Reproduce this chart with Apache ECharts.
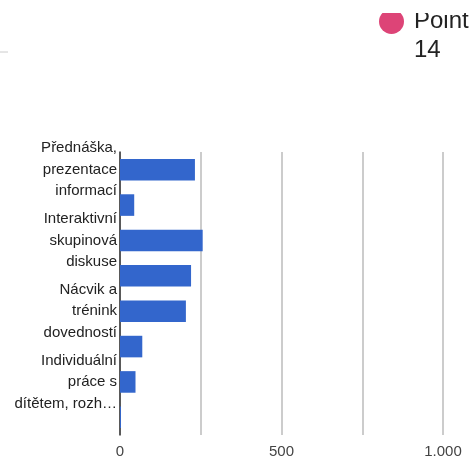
<!DOCTYPE html>
<html>
<head>
<meta charset="utf-8">
<script src="https://cdn.jsdelivr.net/npm/echarts@6/dist/echarts.min.js"></script>
<style>
  html, body { margin: 0; padding: 0; background: #fff; }
  #chart { width: 470px; height: 458px; }
</style>
</head>
<body>
<div id="chart"></div>
<script>
// categories (only every other label fits, the rest are hidden like in the original)
var categories = [
  'Přednáška,\nprezentace\ninformací',
  'Kategorie 2',
  'Interaktivní\nskupinová\ndiskuse',
  'Kategorie 4',
  'Nácvik a\ntrénink\ndovedností',
  'Kategorie 6',
  'Individuální\npráce s\ndítětem, rozh…',
  'Kategorie 8'
];
var values = [232, 44, 256, 220, 204, 69, 48, 3];
var legendName = 'Point';
var legendSub = '14';
var xTicks = [0, 500, 1000];

var chartDom = document.getElementById('chart');
var myChart = echarts.init(chartDom);
var option;

option = {
  animation: false,
  textStyle: { fontFamily: 'Liberation Sans, Arial, sans-serif' },
  legend: {
    data: [legendName],
    left: 379,
    top: 9,
    padding: 0,
    icon: 'circle',
    itemWidth: 25,
    itemHeight: 25,
    itemGap: 9,
    textStyle: { fontSize: 24, color: '#222', padding: [0, 0, 0, 5] },
    selectedMode: false
  },
  graphic: [
    // the top of the legend is cut off in the original
    { type: 'rect', z: 100, shape: { x: 370, y: 0, width: 100, height: 13 }, style: { fill: '#fff' } },
    { type: 'text', left: 414, top: 38, style: { text: legendSub, fontSize: 24, fill: '#222', fontFamily: 'Liberation Sans, Arial, sans-serif' } },
    { type: 'line', shape: { x1: 0, y1: 52, x2: 8, y2: 52 }, style: { stroke: '#cccccc', lineWidth: 1 } }
  ],
  grid: {
    left: 120,
    right: 27,
    top: 152,
    bottom: 23,
    containLabel: false,
    outerBoundsMode: 'none'
  },
  xAxis: {
    type: 'value',
    min: 0,
    max: 1000,
    interval: 250,
    axisLine: { show: false },
    axisTick: { show: false },
    splitLine: { lineStyle: { color: '#cccccc', width: 2 } },
    axisLabel: {
      fontSize: 15,
      color: '#444',
      margin: 9,
      formatter: function (v) {
        if (xTicks.indexOf(v) < 0) return '';
        return String(v).replace(/\B(?=(\d{3})+(?!\d))/g, '.');
      }
    }
  },
  yAxis: {
    type: 'category',
    inverse: true,
    data: categories,
    axisLine: { lineStyle: { color: '#333', width: 1.5 } },
    axisTick: { show: false },
    axisLabel: {
      interval: 1,
      hideOverlap: false,
      fontSize: 15,
      color: '#222',
      lineHeight: 21.5,
      margin: 3,
      padding: [6, 0, 0, 0],
      align: 'right'
    }
  },
  series: [
    {
      name: 'Hodnota',
      type: 'bar',
      data: values,
      barCategoryGap: '39%',
      itemStyle: { color: '#3366cc' }
    },
    {
      name: legendName,
      type: 'line',
      data: [],
      itemStyle: { color: '#dd4477' }
    }
  ]
};
myChart.setOption(option);
</script>
</body>
</html>
